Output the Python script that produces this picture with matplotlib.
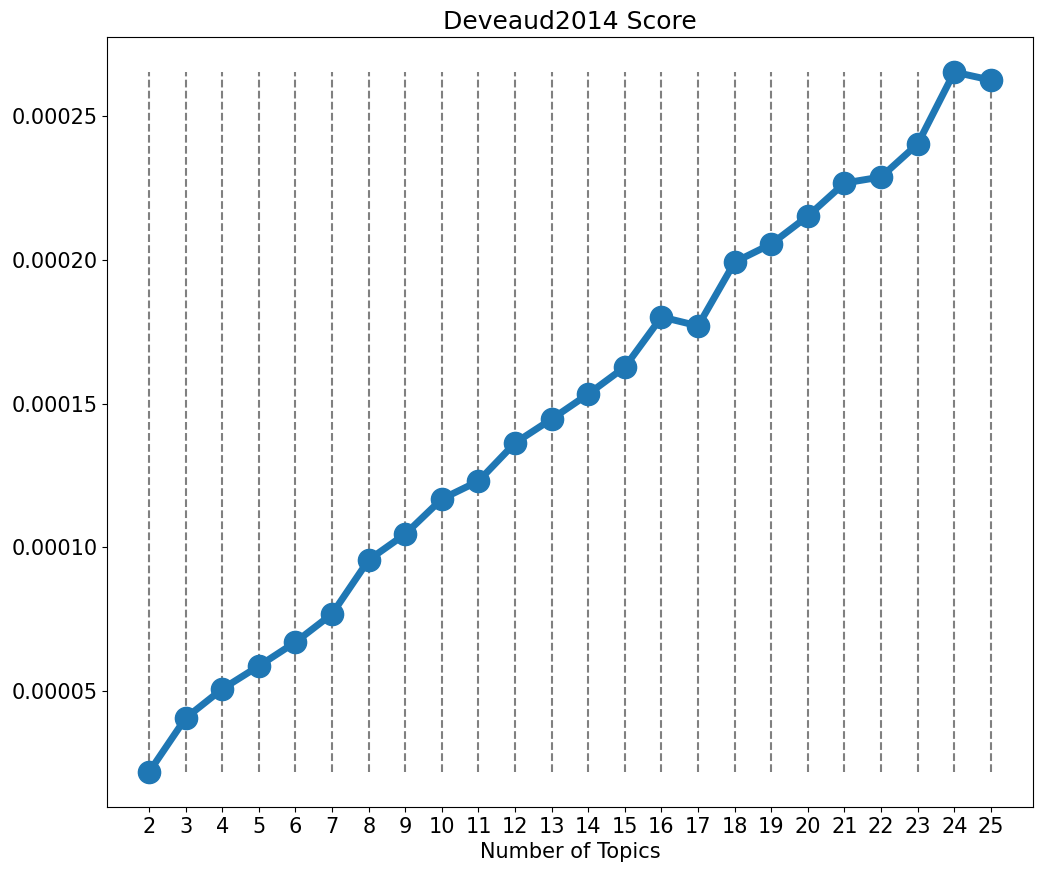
import matplotlib
matplotlib.use("Agg")
import matplotlib.pyplot as plt

topics = list(range(2, 26))
scores = [0.0000218, 0.0000406, 0.0000507, 0.0000587, 0.0000670, 0.0000768,
          0.0000956, 0.0001046, 0.0001168, 0.0001230, 0.0001363, 0.0001446,
          0.0001533, 0.0001627, 0.0001801, 0.0001770, 0.0001992, 0.0002055,
          0.0002152, 0.0002267, 0.0002288, 0.0002403, 0.0002653, 0.0002625]

fig = plt.figure(figsize=(10.45, 8.72), dpi=100)
ax = fig.add_axes([0.1024, 0.0745, 0.8861, 0.883])
ax.vlines(topics, min(scores), max(scores), colors='gray', linestyles='dashed', linewidth=1.5)
ax.plot(topics, scores, '-o', color='#1f77b4', linewidth=5, markersize=16)
ax.set_xticks(topics)
ax.tick_params(labelsize=15)
ax.set_xlabel("Number of Topics", fontsize=15)
ax.set_title("Deveaud2014 Score", fontsize=18)
fig.savefig("out.png", dpi=100)
